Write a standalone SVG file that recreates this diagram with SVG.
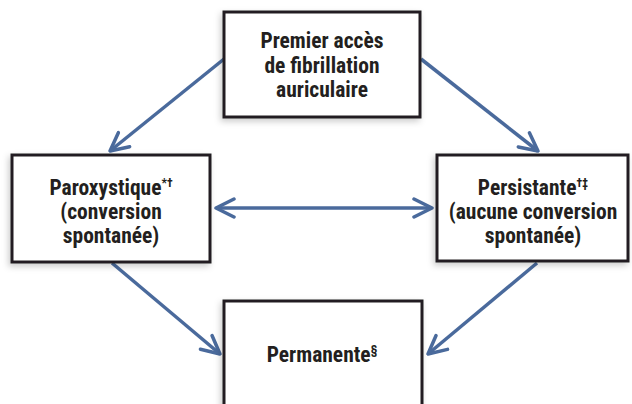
<svg xmlns="http://www.w3.org/2000/svg" width="632" height="404" viewBox="0 0 632 404">
<style>
.box{fill:#fff;stroke:#231f20;stroke-width:3;filter:url(#sh)}
.t{font-family:"Liberation Sans Narrow","Roboto Condensed","Liberation Sans",sans-serif;font-weight:bold;font-size:21.5px;fill:#231f20;text-anchor:middle}
.sup{font-size:12px}
.c{stroke:#4a6a9c;stroke-width:3.5;fill:none}
</style>
<defs>
<filter id="sh" x="-10%" y="-10%" width="130%" height="130%"><feDropShadow dx="-2" dy="3" stdDeviation="3" flood-color="#000" flood-opacity="0.2"/></filter>
<marker id="ah" viewBox="0 0 22 22" refX="20" refY="11" markerWidth="22" markerHeight="22" markerUnits="userSpaceOnUse" orient="auto-start-reverse">
<path d="M2,2 L20,11 L2,20" fill="none" stroke="#4a6a9c" stroke-width="3.5" stroke-linecap="round" stroke-linejoin="round"/>
</marker>
</defs>
<g id="connectors">
<line class="c" x1="224" y1="59" x2="110" y2="151" marker-end="url(#ah)"/>
<line class="c" x1="421" y1="59" x2="538" y2="151" marker-end="url(#ah)"/>
<line class="c" x1="216" y1="208" x2="432" y2="208" marker-start="url(#ah)" marker-end="url(#ah)"/>
<line class="c" x1="112" y1="263" x2="220" y2="354" marker-end="url(#ah)"/>
<line class="c" x1="537" y1="263" x2="428" y2="354" marker-end="url(#ah)"/>
</g>
<g id="n1">
<rect class="box" x="224" y="12" width="196" height="105"/>
<text class="t" x="322" y="48">Premier accès</text>
<text class="t" x="322" y="73">de fibrillation</text>
<text class="t" x="322" y="97">auriculaire</text>
</g>
<g id="n2">
<rect class="box" x="12" y="155" width="198" height="107"/>
<text class="t" x="111" y="195">Paroxystique<tspan class="sup" dy="-8">*†</tspan></text>
<text class="t" x="111" y="219">(conversion</text>
<text class="t" x="111" y="243">spontanée)</text>
</g>
<g id="n3">
<rect class="box" x="437" y="155" width="191" height="106"/>
<text class="t" x="533" y="195">Persistante<tspan class="sup" dy="-8">†‡</tspan></text>
<text class="t" x="533" y="219">(aucune conversion</text>
<text class="t" x="533" y="243">spontanée)</text>
</g>
<g id="n4">
<rect class="box" x="224" y="301" width="198" height="120"/>
<text class="t" x="322" y="362">Permanente<tspan class="sup" dy="-8">§</tspan></text>
</g>
</svg>
